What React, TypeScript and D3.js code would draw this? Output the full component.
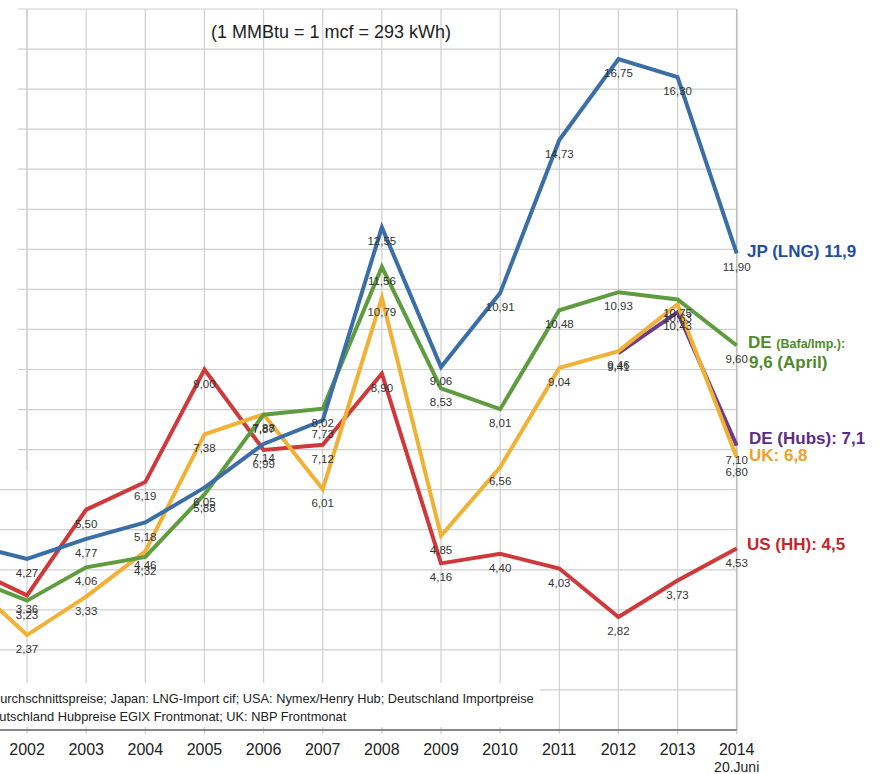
import React from "react";
import * as d3 from "d3";

const years = [2001, 2002, 2003, 2004, 2005, 2006, 2007, 2008, 2009, 2010, 2011, 2012, 2013, 2014];
const jpLng = [4.64, 4.27, 4.77, 5.18, 6.05, 7.14, 7.73, 12.55, 9.06, 10.91, 14.73, 16.75, 16.3, 11.9];
const deBafa = [3.82, 3.23, 4.06, 4.32, 5.88, 7.87, 8.02, 11.56, 8.53, 8.01, 10.48, 10.93, 10.75, 9.6];
const ukNbp = [3.74, 2.37, 3.33, 4.46, 7.38, 7.88, 6.01, 10.79, 4.85, 6.56, 9.04, 9.46, 10.63, 6.8];
const deHubYears = [2012, 2013, 2014];
const deHubs = [9.41, 10.43, 7.1];
const usHh = [4.07, 3.36, 5.5, 6.19, 9.0, 6.99, 7.12, 8.9, 4.16, 4.4, 4.03, 2.82, 3.73, 4.53];
const yTicks = d3.range(0, 19);
const yearLabels = ["2002", "2003", "2004", "2005", "2006", "2007", "2008", "2009", "2010", "2011", "2012", "2013", "2014"];

const FONT = "'Liberation Sans', Arial, Helvetica, sans-serif";

type Series = { key: string; years: number[]; values: number[]; color: string };

const series: Series[] = [
  { key: "us", years, values: usHh, color: "#d0393a" },
  { key: "dehub", years: deHubYears, values: deHubs, color: "#6c3b8e" },
  { key: "uk", years, values: ukNbp, color: "#f1b135" },
  { key: "de", years, values: deBafa, color: "#5e9c3f" },
  { key: "jp", years, values: jpLng, color: "#3b6ea6" },
];

export default function App() {
  const W = 885;
  const H = 774;
  const x = d3.scaleLinear().domain([2001, 2014]).range([-32.1, 736.7]);
  const y = d3.scaleLinear().domain([0, 18]).range([730, 9]);
  const line = d3
    .line<[number, number]>()
    .x((d) => x(d[0]))
    .y((d) => y(d[1]));
  const fmt = (v: number) => d3.format(".2f")(v).replace(".", ",");
  const right = x(2014);

  return (
    <svg
      width={W}
      height={H}
      style={{ position: "absolute", left: 0, top: 0, background: "#fff" }}
      fontFamily={FONT}
    >
      <rect x={0} y={0} width={W} height={H} fill="#fff" />
      {/* grid */}
      {yTicks.map((t) => (
        <line key={"h" + t} x1={0} x2={right} y1={y(t)} y2={y(t)} stroke="#cfcfcf" strokeWidth={1.2} />
      ))}
      {years.slice(1).map((yr) => (
        <line key={"v" + yr} x1={x(yr)} x2={x(yr)} y1={y(18)} y2={y(0) + 4} stroke="#cfcfcf" strokeWidth={1.2} />
      ))}
      <rect x={0} y={0} width={18} height={470} fill="#fff" />
      <line x1={x(2002)} x2={x(2002)} y1={y(18)} y2={470} stroke="#cfcfcf" strokeWidth={1.2} />
      <line x1={right} x2={right} y1={y(18)} y2={y(0)} stroke="#bdbdbd" strokeWidth={1.5} />
      {/* footnote box */}
      <rect x={0} y={683} width={540} height={44} fill="#fff" />
      <text x={-9} y={703} fontSize={12.8} fill="#222">
        Durchschnittspreise; Japan: LNG-Import cif; USA: Nymex/Henry Hub; Deutschland Importpreise
      </text>
      <text x={-17} y={721} fontSize={12.8} fill="#222">
        Deutschland Hubpreise EGIX Frontmonat; UK: NBP Frontmonat
      </text>
      {/* axis */}
      <line x1={0} x2={right} y1={y(0)} y2={y(0)} stroke="#666" strokeWidth={1.5} />
      {yearLabels.map((lab, i) => (
        <text key={lab} x={x(2002 + i)} y={755} fontSize={16} textAnchor="middle" fill="#222">
          {lab}
        </text>
      ))}
      <text x={x(2014)} y={772} fontSize={14} textAnchor="middle" fill="#222">
        20.Juni
      </text>
      {/* title */}
      <text x={331} y={38} fontSize={18} textAnchor="middle" fill="#222">
        (1 MMBtu = 1 mcf = 293 kWh)
      </text>
      {/* lines */}
      {series.map((s) => (
        <path
          key={s.key}
          d={line(s.years.map((yr, i) => [yr, s.values[i]] as [number, number])) || ""}
          fill="none"
          stroke={s.color}
          strokeWidth={4}
          strokeLinejoin="miter"
        />
      ))}
      {/* data labels */}
      {series.map((s) =>
        s.years.map((yr, i) =>
          yr === 2001 ? null : (
            <text
              key={s.key + yr}
              x={x(yr)}
              y={y(s.values[i]) + 18}
              fontSize={11.5}
              textAnchor="middle"
              fill="#333"
            >
              {fmt(s.values[i])}
            </text>
          )
        )
      )}
      {/* series end labels */}
      <g fontWeight="bold" fontSize={17}>
        <text x={747} y={257} fill="#1f4f9e">JP (LNG) 11,9</text>
        <text x={748} y={348} fill="#4e8a2c">
          DE <tspan fontSize={12.5}>(Bafa/Imp.):</tspan>
        </text>
        <text x={749} y={368} fill="#4e8a2c">9,6 (April)</text>
        <text x={749} y={444} fill="#5d2c86">DE (Hubs): 7,1</text>
        <text x={749} y={461} fill="#eea226">UK: 6,8</text>
        <text x={747} y={550} fill="#c4262b">US (HH): 4,5</text>
      </g>
    </svg>
  );
}
